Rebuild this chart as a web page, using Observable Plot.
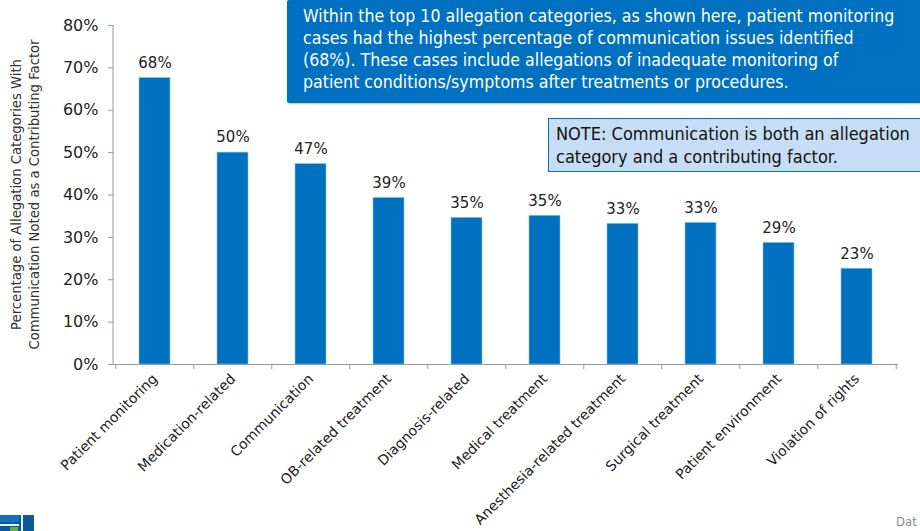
<!DOCTYPE html>
<html>
<head>
<meta charset="utf-8">
<script src="https://cdn.jsdelivr.net/npm/d3@7"></script>
<script src="https://cdn.jsdelivr.net/npm/@observablehq/plot@0.6"></script>
<style>
  html, body { margin: 0; padding: 0; background: #fff; }
  body { width: 920px; height: 531px; overflow: hidden; position: relative; font-family: "DejaVu Sans", Verdana, sans-serif; }
  #chart { position: absolute; left: 0; top: 0; }
  .callout {
    position: absolute; left: 287px; top: 0px; width: 660px; height: 103px;
    background: #0070C0; color: #fff; box-sizing: border-box;
    padding: 5px 0 0 16px; font-family: "DejaVu Sans Condensed", "DejaVu Sans", sans-serif;
    font-size: 17.6px; line-height: 22px; border-radius: 2px;
    box-shadow: 1px 1px 2px rgba(0,0,0,0.25);
  }
  .note {
    position: absolute; left: 548px; top: 118px; width: 400px; height: 54px;
    background: #C6DDF5; color: #111; border: 1.5px solid #0070C0; box-sizing: border-box;
    padding: 3px 0 0 7px; font-family: "DejaVu Sans Condensed", "DejaVu Sans", sans-serif;
    font-size: 18px; line-height: 23px;
  }
  .source { position: absolute; left: 896px; top: 514px; font-size: 13px; color: #8a8a8a; font-family: "DejaVu Sans Condensed", "DejaVu Sans", sans-serif; white-space: nowrap; }
  .logo { position: absolute; left: 0; top: 515px; width: 34px; height: 16px; background: #0a5a9c; }
  .logo .a { position: absolute; left: 0; top: 0; width: 19px; height: 7px; background: #1572b8; }
  .logo .b { position: absolute; left: 21px; top: 0; width: 2px; height: 16px; background: #e8f0f8; }
  .logo .c { position: absolute; left: 0; top: 9px; width: 19px; height: 2px; background: #e8f0f8; }
  .logo .d { position: absolute; left: 10px; top: 12px; width: 8px; height: 4px; background: #6aaa5a; }
</style>
</head>
<body>
<div id="chart"></div>
<div class="callout">Within the top 10 allegation categories, as shown here, patient monitoring<br>cases had the highest percentage of communication issues identified<br>(68%). These cases include allegations of inadequate monitoring of<br>patient conditions/symptoms after treatments or procedures.</div>
<div class="note">NOTE: Communication is both an allegation<br>category and a contributing factor.</div>
<div class="logo"><div class="a"></div><div class="b"></div><div class="c"></div><div class="d"></div></div>
<div class="source">Dat</div>
<script>
const categories = [
  "Patient monitoring", "Medication-related", "Communication", "OB-related treatment",
  "Diagnosis-related", "Medical treatment", "Anesthesia-related treatment",
  "Surgical treatment", "Patient environment", "Violation of rights"
];
const values = [0.676, 0.500, 0.473, 0.393, 0.346, 0.351, 0.332, 0.334, 0.287, 0.226];
const yTicks = [0, 0.1, 0.2, 0.3, 0.4, 0.5, 0.6, 0.7, 0.8];
const yTitle = ["Percentage of Allegation Categories With", "Communication Noted as a Contributing Factor"];

const data = categories.map((c, i) => ({category: c, value: values[i]}));

const W = 920, H = 531, mL = 113, mR = 22, mT = 25, mB = 167;
const halfStep = (W - mL - mR) / categories.length / 2;

const chart = Plot.plot({
  width: W, height: H,
  marginLeft: mL, marginRight: mR, marginTop: mT, marginBottom: mB,
  style: {fontFamily: "DejaVu Sans, Verdana, sans-serif", fontSize: "14px", color: "#222", background: "transparent", overflow: "visible"},
  x: {domain: categories, paddingInner: 0.6, paddingOuter: 0.3, label: null},
  y: {domain: [0, 0.8], label: null},
  marks: [
    Plot.barY(data, {x: "category", y: "value", fill: "#0070C0", stroke: "#8fc0e8", strokeWidth: 0.6}),
    Plot.text(data, {x: "category", y: "value", text: d => Math.round(d.value * 100) + "%", dy: -15, fontSize: 15, fill: "#222"}),
    Plot.axisY({ticks: yTicks, tickFormat: d => Math.round(d * 100) + "%", tickSize: 5, tickPadding: 10, fontSize: 16, stroke: "#999", color: "#222", label: null}),
    Plot.ruleY([0], {stroke: "#999"}),
    Plot.axisX({tickSize: 0, tickPadding: 12, tickRotate: -45, fontSize: 14, color: "#222", label: null}),
    Plot.ruleX(categories, {x: d => d, y1: 0, y2: -0.012, dx: -halfStep, stroke: "#999"}),
    Plot.ruleX([categories[categories.length - 1]], {x: d => d, y1: 0, y2: -0.012, dx: halfStep, stroke: "#999"})
  ]
});

const svg = d3.select(chart);
const ys = chart.scale("y");
svg.append("line")
  .attr("x1", mL).attr("x2", mL)
  .attr("y1", ys.apply(0.8)).attr("y2", ys.apply(0))
  .attr("stroke", "#999");
const tg = svg.append("text")
  .attr("transform", `translate(22, ${(ys.apply(0.8) + ys.apply(0)) / 2}) rotate(-90)`)
  .attr("text-anchor", "middle")
  .attr("font-size", 13.2)
  .attr("fill", "#333")
  .attr("font-family", "DejaVu Sans, sans-serif");
yTitle.forEach((t, i) => tg.append("tspan").attr("x", 0).attr("dy", i === 0 ? "-0.05em" : "1.35em").text(t));

document.getElementById("chart").appendChild(chart);
</script>
</body>
</html>
